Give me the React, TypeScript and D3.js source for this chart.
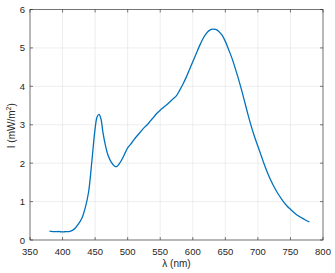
import React from 'react'
import * as d3 from 'd3'

const wavelength = [
  380, 385, 390, 395, 400, 405, 410, 415, 420, 425, 430, 435, 440, 445, 450, 453, 456, 459, 462, 466,
  470, 475, 480, 483, 487, 492, 497, 500, 505, 510, 515, 520, 525, 530, 535, 540, 545, 550, 555, 560,
  565, 570, 575, 580, 585, 590, 595, 600, 605, 610, 615, 620, 625, 630, 635, 640, 645, 650, 655, 660,
  665, 670, 675, 680, 685, 690, 695, 700, 705, 710, 715, 720, 725, 730, 735, 740, 745, 750, 755, 760,
  765, 770, 775, 779,
]
const intensity = [
  0.23, 0.22, 0.22, 0.22, 0.21, 0.22, 0.22, 0.25, 0.32, 0.43, 0.58, 0.85, 1.25, 2.05, 2.9, 3.2, 3.27, 3.15, 2.8, 2.45,
  2.2, 2.02, 1.92, 1.91, 1.98, 2.12, 2.3, 2.4, 2.5, 2.62, 2.72, 2.82, 2.92, 3.0, 3.1, 3.2, 3.3, 3.38, 3.45, 3.52,
  3.6, 3.68, 3.76, 3.9, 4.06, 4.24, 4.44, 4.64, 4.84, 5.04, 5.22, 5.36, 5.45, 5.49, 5.48, 5.43, 5.33, 5.17, 4.96, 4.74,
  4.48, 4.2, 3.9, 3.58, 3.25, 2.95, 2.68, 2.44, 2.2, 1.96, 1.74, 1.55, 1.38, 1.23, 1.1, 0.98, 0.88, 0.8, 0.72, 0.65,
  0.6, 0.55, 0.5, 0.47,
]
const xTicks = [350, 400, 450, 500, 550, 600, 650, 700, 750, 800]
const yTicks = [0, 1, 2, 3, 4, 5, 6]

const W = 335
const H = 273
const m = { left: 30, right: 12, top: 9.5, bottom: 33 }
const font = 'Liberation Sans, Arial, sans-serif'
const txt = '#262626'

export default function App() {
  const x = d3.scaleLinear().domain([350, 800]).range([m.left, W - m.right])
  const y = d3.scaleLinear().domain([0, 6]).range([H - m.bottom, m.top])
  const pts: [number, number][] = wavelength.map((w, i) => [w, intensity[i]])
  const line = d3
    .line<[number, number]>()
    .x(d => x(d[0]))
    .y(d => y(d[1]))
    .curve(d3.curveCatmullRom)
  const [x0, x1] = x.range()
  const [y0, y1] = y.range()

  return (
    <svg width={W} height={H} style={{ position: 'absolute', left: 0, top: 0, background: '#fff' }}>
      <rect x={0} y={0} width={W} height={H} fill="#fff" />
      {xTicks.map(t => (
        <line key={'gx' + t} x1={x(t)} x2={x(t)} y1={y0} y2={y1} stroke="#e3e3e3" strokeWidth={0.6} />
      ))}
      {yTicks.map(t => (
        <line key={'gy' + t} x1={x0} x2={x1} y1={y(t)} y2={y(t)} stroke="#e3e3e3" strokeWidth={0.6} />
      ))}
      <path d={line(pts) || ''} fill="none" stroke="#0072BD" strokeWidth={1.3} />
      <rect x={x0} y={y1} width={x1 - x0} height={y0 - y1} fill="none" stroke="#262626" strokeWidth={0.6} />
      {xTicks.map(t => (
        <g key={'tx' + t}>
          <line x1={x(t)} x2={x(t)} y1={y0} y2={y0 - 3} stroke={txt} strokeWidth={0.6} />
          <line x1={x(t)} x2={x(t)} y1={y1} y2={y1 + 3} stroke={txt} strokeWidth={0.6} />
          <text x={x(t)} y={y0 + 15} textAnchor="middle" fontFamily={font} fontSize={9.5} fill={txt}>
            {t}
          </text>
        </g>
      ))}
      {yTicks.map(t => (
        <g key={'ty' + t}>
          <line x1={x0} x2={x0 + 3} y1={y(t)} y2={y(t)} stroke={txt} strokeWidth={0.6} />
          <line x1={x1} x2={x1 - 3} y1={y(t)} y2={y(t)} stroke={txt} strokeWidth={0.6} />
          <text x={x0 - 5} y={y(t) + 3.5} textAnchor="end" fontFamily={font} fontSize={9.5} fill={txt}>
            {t}
          </text>
        </g>
      ))}
      <text x={(x0 + x1) / 2} y={H - 6} textAnchor="middle" fontFamily={font} fontSize={10} fill={txt}>
        λ (nm)
      </text>
      <text
        transform={`translate(15,${(y0 + y1) / 2 + 1}) rotate(-90)`}
        textAnchor="middle"
        fontFamily={font}
        fontSize={10}
        fill={txt}
      >
        I (mW/m<tspan dy={-4} fontSize={7}>2</tspan>
        <tspan dy={4}>)</tspan>
      </text>
    </svg>
  )
}
